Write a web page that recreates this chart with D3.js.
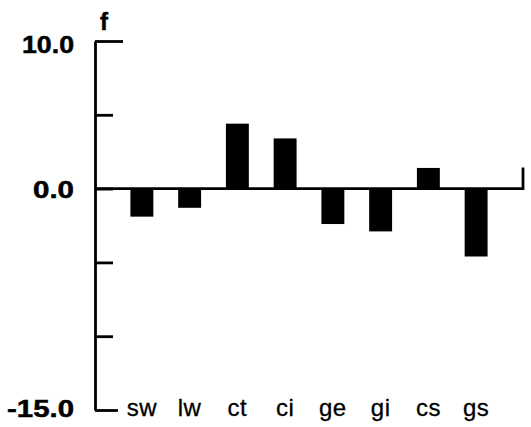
<!DOCTYPE html>
<html>
<head>
<meta charset="utf-8">
<script src="https://cdn.jsdelivr.net/npm/d3@7"></script>
<style>
  html, body { margin: 0; padding: 0; background: #fff; }
  svg { display: block; }
  text { font-family: "Liberation Sans", Arial, Helvetica, sans-serif; fill: #000; }
</style>
</head>
<body>
<svg id="chart" width="531" height="427"></svg>
<script>
// Categories and their f values
const categories = ["sw", "lw", "ct", "ci", "ge", "gi", "cs", "gs"];
const values = [-1.9, -1.3, 4.4, 3.4, -2.4, -2.9, 1.4, -4.6];
// Axis ticks and the labelled ones
const yTicks = [10, 5, 0, -5, -10, -15];
const yLabels = ["10.0", "0.0", "-15.0"];
const yTitle = "f";

const svg = d3.select("#chart");

const axisX = 95;      // vertical axis position
const rightEnd = 523;  // end of the zero line

const y = d3.scaleLinear().domain([-15, 10]).range([410, 41]);
const x = d3.scaleBand()
  .domain(categories)
  .range([118, 500])
  .paddingInner(0.52)
  .paddingOuter(0.26);

const stroke = 2.8;

// Vertical axis with ticks pointing right
const yAxis = d3.axisRight(y)
  .tickValues(yTicks)
  .tickSize(18)
  .tickSizeOuter(0)
  .tickFormat("");

const gy = svg.append("g")
  .attr("transform", `translate(${axisX},0)`)
  .call(yAxis);
gy.select(".domain").attr("stroke", "#000").attr("stroke-width", stroke);
gy.selectAll(".tick line")
  .attr("stroke", "#000")
  .attr("stroke-width", stroke)
  .attr("x2", d => d === 10 ? 28 : d === -15 ? 23 : 18);

// Zero line, turning up at its right end
const y0 = y(0);
svg.append("path")
  .attr("d", `M${axisX},${y0}H${rightEnd}V${y0 - 21}`)
  .attr("fill", "none")
  .attr("stroke", "#000")
  .attr("stroke-width", stroke);

// Bars
svg.append("g")
  .selectAll("rect")
  .data(values)
  .join("rect")
  .attr("x", (d, i) => x(categories[i]))
  .attr("width", x.bandwidth())
  .attr("y", d => y(Math.max(0, d)))
  .attr("height", d => Math.abs(y(d) - y(0)))
  .attr("fill", "#000");

// Tick labels on the left
const labelWidth = { "10.0": 52, "0.0": 41, "-15.0": 67 };
const labelShift = { "10.0": 12, "0.0": 9, "-15.0": 7 };
svg.append("g")
  .selectAll("text")
  .data(yLabels)
  .join("text")
  .attr("x", 74)
  .attr("y", d => y(+d) + labelShift[d])
  .attr("text-anchor", "end")
  .attr("font-size", 23)
  .attr("font-weight", "bold")
  .attr("stroke", "#000")
  .attr("stroke-width", 0.5)
  .attr("textLength", d => labelWidth[d])
  .attr("lengthAdjust", "spacingAndGlyphs")
  .text(d => d);

// Axis title
svg.append("text")
  .attr("x", 104)
  .attr("y", 30)
  .attr("text-anchor", "middle")
  .attr("font-size", 24)
  .attr("font-weight", "bold")
  .attr("stroke", "#000")
  .attr("stroke-width", 0.5)
  .text(yTitle);

// Category labels along the bottom
svg.append("g")
  .selectAll("text")
  .data(categories)
  .join("text")
  .attr("x", d => x(d) + x.bandwidth() / 2)
  .attr("y", 416)
  .attr("text-anchor", "middle")
  .attr("font-size", 24)
  .attr("letter-spacing", 0.5)
  .attr("stroke", "#000")
  .attr("stroke-width", 0.3)
  .text(d => d);
</script>
</body>
</html>
